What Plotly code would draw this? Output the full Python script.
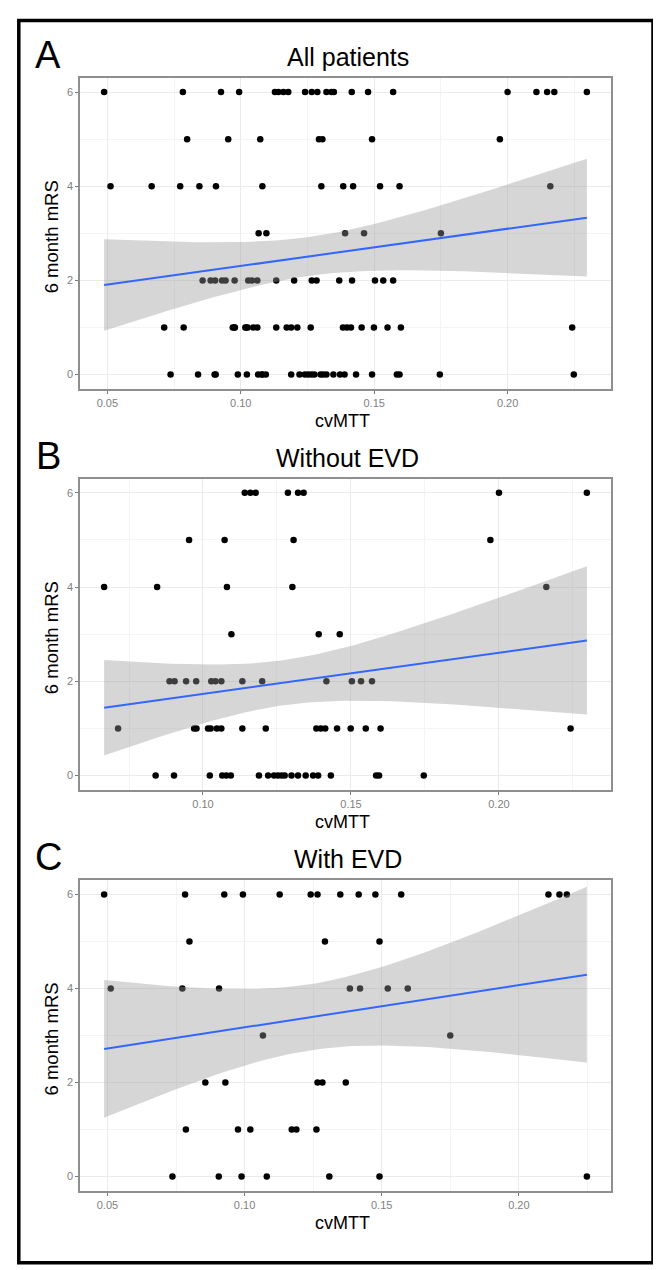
import numpy as np
import plotly.graph_objects as go

# cvMTT vs 6 month mRS (rows grouped by mRS, top to bottom)
without_evd_cvmtt = [
    0.1141, 0.1160, 0.1178, 0.1287, 0.1321, 0.1340, 0.2000, 0.2297,
    0.0953, 0.1073, 0.1306, 0.1971,
    0.0666, 0.0845, 0.1081, 0.1302, 0.2160,
    0.1096, 0.1391, 0.1462,
    0.0887, 0.0904, 0.0943, 0.0977, 0.1028, 0.1042, 0.1062, 0.1133, 0.1200,
    0.1417, 0.1503, 0.1534, 0.1571,
    0.0713, 0.0970, 0.0978, 0.1017, 0.1026, 0.1047, 0.1062, 0.1133, 0.1212,
    0.1383, 0.1398, 0.1413, 0.1453, 0.1499, 0.1550, 0.1600, 0.2242,
    0.0840, 0.0902, 0.1023, 0.1065, 0.1079, 0.1094, 0.1189, 0.1220, 0.1240,
    0.1253, 0.1265, 0.1276, 0.1299, 0.1321, 0.1347, 0.1372, 0.1389, 0.1432,
    0.1585, 0.1595, 0.1746,
]
without_evd_mrs = [
    6, 6, 6, 6, 6, 6, 6, 6,
    5, 5, 5, 5,
    4, 4, 4, 4, 4,
    3, 3, 3,
    2, 2, 2, 2, 2, 2, 2, 2, 2,
    2, 2, 2, 2,
    1, 1, 1, 1, 1, 1, 1, 1, 1,
    1, 1, 1, 1, 1, 1, 1, 1,
    0, 0, 0, 0, 0, 0, 0, 0, 0,
    0, 0, 0, 0, 0, 0, 0, 0, 0,
    0, 0, 0,
]

with_evd_cvmtt = [
    0.0488, 0.0783, 0.0926, 0.0994, 0.1128, 0.1241, 0.1266, 0.1349, 0.1416,
    0.1477, 0.1571, 0.2108, 0.2148, 0.2175,
    0.0799, 0.1293, 0.1492,
    0.0512, 0.0773, 0.0907, 0.1384, 0.1421, 0.1522, 0.1595,
    0.1067, 0.1750,
    0.0857, 0.0930, 0.1266, 0.1284, 0.1369,
    0.0786, 0.0976, 0.1021, 0.1172, 0.1189, 0.1262,
    0.0737, 0.0906, 0.0989, 0.1081, 0.1309, 0.1492, 0.2248,
]
with_evd_mrs = [
    6, 6, 6, 6, 6, 6, 6, 6, 6,
    6, 6, 6, 6, 6,
    5, 5, 5,
    4, 4, 4, 4, 4, 4, 4,
    3, 3,
    2, 2, 2, 2, 2,
    1, 1, 1, 1, 1, 1,
    0, 0, 0, 0, 0, 0, 0,
]

# "All patients" is both groups together
all_cvmtt = without_evd_cvmtt + with_evd_cvmtt
all_mrs = without_evd_mrs + with_evd_mrs

panels = [
    ("A", "All patients", all_cvmtt, all_mrs),
    ("B", "Without EVD", without_evd_cvmtt, without_evd_mrs),
    ("C", "With EVD", with_evd_cvmtt, with_evd_mrs),
]

W, H = 661, 1270
# panel boxes in pixels (top, bottom), shared left/right
panel_px = [(70, 380.7), (470.7, 781.7), (872.3, 1182.7)]
LEFT, RIGHT = 72, 603


def t975(df):
    # Cornish-Fisher approximation of the t quantile
    z = 1.959964
    return z + (z**3 + z) / (4 * df) + (5 * z**5 + 16 * z**3 + 3 * z) / (96 * df**2)


def lm_band(x, y, n_grid=80):
    # geom_smooth(method = "lm") equivalent
    x = np.asarray(x, float)
    y = np.asarray(y, float)
    n = len(x)
    xm = x.mean()
    sxx = ((x - xm) ** 2).sum()
    slope = ((x - xm) * (y - y.mean())).sum() / sxx
    icpt = y.mean() - slope * xm
    s = np.sqrt(((y - icpt - slope * x) ** 2).sum() / (n - 2))
    grid = np.linspace(x.min(), x.max(), n_grid)
    fit = icpt + slope * grid
    se = s * np.sqrt(1 / n + (grid - xm) ** 2 / sxx)
    t = t975(n - 2)
    return grid, fit, fit - t * se, fit + t * se


def py(p):
    return 1 - p / H


def px_(p):
    return p / W


fig = go.Figure()
annotations = []
font = "Liberation Sans, Arial, sans-serif"

for i, (letter, title, xs, ys) in enumerate(panels):
    k = "" if i == 0 else str(i + 1)
    xa, ya = "x" + k, "y" + k
    top, bottom = panel_px[i]

    fig.add_trace(go.Scatter(x=xs, y=ys, mode="markers", xaxis=xa, yaxis=ya,
                             marker=dict(color="black", size=6.5), showlegend=False))
    gx, fit, lo, hi = lm_band(xs, ys)
    fig.add_trace(go.Scatter(x=np.concatenate([gx, gx[::-1]]),
                             y=np.concatenate([hi, lo[::-1]]),
                             fill="toself", fillcolor="rgba(153,153,153,0.4)",
                             line=dict(width=0), mode="lines", xaxis=xa, yaxis=ya,
                             showlegend=False, hoverinfo="skip"))
    fig.add_trace(go.Scatter(x=gx, y=fit, mode="lines", xaxis=xa, yaxis=ya,
                             line=dict(color="#3366FF", width=2), showlegend=False))

    span = max(xs) - min(xs)
    xr = [min(xs) - 0.05 * span, max(xs) + 0.05 * span]
    axis_common = dict(
        showline=True, mirror=True, linecolor="#8f8f8f", linewidth=1.6,
        ticks="outside", ticklen=3, tickwidth=1, tickcolor="#7a7a7a",
        tickfont=dict(family=font, size=11, color="#7f7f7f"),
        showgrid=True, gridcolor="#ebebeb", gridwidth=1, zeroline=False,
    )
    fig.update_layout(**{
        "xaxis" + k: dict(axis_common, domain=[px_(LEFT), px_(RIGHT)], anchor=ya,
                          range=xr, tick0=0, dtick=0.05, tickformat=".2f",
                          minor=dict(dtick=0.025, tick0=0, showgrid=True,
                                     gridcolor="#f4f4f4", ticks="")),
        "yaxis" + k: dict(axis_common, domain=[py(bottom), py(top)], anchor=xa,
                          range=[-0.3, 6.3], tick0=0, dtick=2,
                          minor=dict(dtick=1, tick0=0, showgrid=True,
                                     gridcolor="#f4f4f4", ticks="")),
    })

    mid_x = (LEFT + RIGHT) / 2
    mid_y = (top + bottom) / 2
    annotations += [
        dict(text=letter, x=px_(40), y=py(top - 23), font=dict(family=font, size=38, color="black")),
        dict(text=title, x=px_(mid_x + 2), y=py(top - 21), font=dict(family=font, size=25, color="black")),
        dict(text="cvMTT", x=px_(mid_x - 3), y=py(bottom + 32), font=dict(family=font, size=18, color="black")),
        dict(text="6 month mRS", x=px_(43), y=py(mid_y + 4), textangle=-90,
             font=dict(family=font, size=18.5, color="black")),
    ]

for a in annotations:
    a.update(xref="paper", yref="paper", showarrow=False, xanchor="center", yanchor="middle")

fig.update_layout(
    width=W, height=H, autosize=False,
    margin=dict(l=0, r=0, t=0, b=0),
    paper_bgcolor="white", plot_bgcolor="white",
    annotations=annotations,
    shapes=[dict(type="rect", xref="paper", yref="paper",
                 x0=px_(10.8), x1=px_(645), y0=py(12.5), y1=py(1254.7),
                 line=dict(color="black", width=3.5))],
)

fig.write_html("out.html")
